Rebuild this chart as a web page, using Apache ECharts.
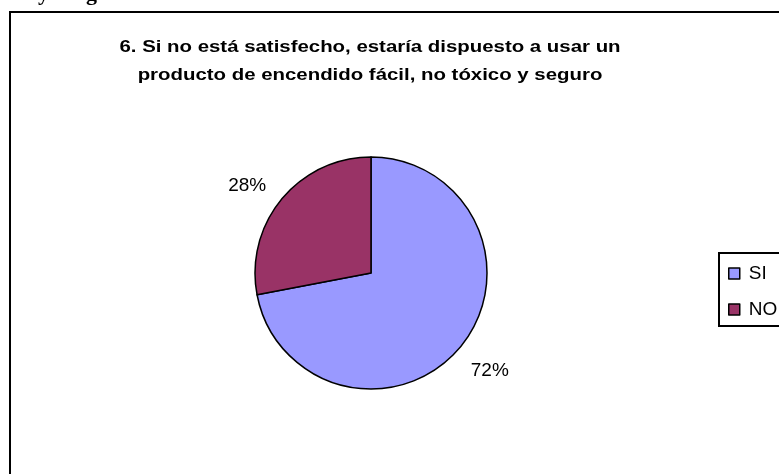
<!DOCTYPE html>
<html>
<head>
<meta charset="utf-8">
<script src="https://cdn.jsdelivr.net/npm/echarts@6/dist/echarts.min.js"></script>
<style>
  html, body { margin: 0; padding: 0; background: #fff; }
  #chart { width: 779px; height: 474px; }
</style>
</head>
<body>
<div id="chart"></div>
<script>
// Survey question 6: willingness to use an easy-lighting, non-toxic, safe product
const titleLines = [
  '6. Si no está satisfecho, estaría dispuesto a usar un',
  'producto de encendido fácil, no tóxico y seguro'
];
const categories = ['SI', 'NO'];
const values = [72, 28];
const colors = ['#9999FF', '#993366'];

const chart = echarts.init(document.getElementById('chart'), null, { renderer: 'canvas' });

const FONT = '"Liberation Sans", Arial, sans-serif';
const SERIF = 'bold 22px "Liberation Serif", "Times New Roman", serif';

chart.setOption({
  animation: false,
  backgroundColor: '#ffffff',
  color: colors,
  graphic: [
    // fragments of the document text running above the chart frame
    { type: 'text', left: 38, top: -17, style: { text: 'y', font: SERIF, fill: '#000' } },
    { type: 'text', left: 86, top: -17, style: { text: 'ge', font: SERIF, fill: '#000' } },
    {
      type: 'rect',
      shape: { x: 10, y: 12, width: 800, height: 500 },
      style: { fill: 'none', stroke: '#000', lineWidth: 2 },
      z: -1
    },
    {
      type: 'text',
      x: 370, y: 61,
      scaleX: 1.2,
      style: {
        text: titleLines.join('\n'),
        x: 0, y: 0,
        align: 'center', verticalAlign: 'middle',
        font: 'bold 17px ' + FONT,
        lineHeight: 28,
        fill: '#000'
      }
    }
  ],
  legend: {
    orient: 'vertical',
    left: 719, top: 253,
    padding: [11, 40, 7, 9],
    itemGap: 17,
    itemWidth: 11, itemHeight: 11,
    borderColor: '#000', borderWidth: 2,
    icon: 'rect',
    data: categories,
    itemStyle: { borderColor: '#000', borderWidth: 1.5 },
    textStyle: { fontFamily: FONT, fontSize: 19, color: '#000', padding: [0, 0, 0, 4] }
  },
  series: [{
    type: 'pie',
    center: [371, 273],
    radius: 116,
    startAngle: 90,
    clockwise: true,
    avoidLabelOverlap: false,
    itemStyle: { borderColor: '#000', borderWidth: 1.5 },
    label: {
      show: true,
      position: 'outside',
      formatter: '{c}%',
      fontFamily: FONT,
      fontSize: 19,
      color: '#000'
    },
    labelLine: { show: false, length: 20, length2: 0 },
    labelLayout: function (p) {
      return p.dataIndex === 0 ? { dx: -10, dy: 11 } : { dx: 5, dy: -1 };
    },
    emphasis: { disabled: true },
    data: categories.map((name, i) => ({ name, value: values[i] }))
  }]
});
</script>
</body>
</html>
